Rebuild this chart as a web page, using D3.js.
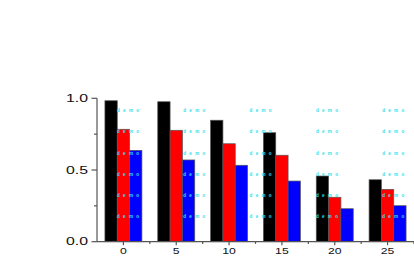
<!DOCTYPE html>
<html>
<head>
<meta charset="utf-8">
<script src="https://cdn.jsdelivr.net/npm/d3@7"></script>
<style>
  html, body { margin: 0; padding: 0; background: #fff; }
  svg { display: block; }
</style>
</head>
<body>
<svg id="chart" width="414" height="276"></svg>
<script>
// data
var categories = [0, 5, 10, 15, 20, 25];
var blackSeries = [0.983, 0.976, 0.847, 0.760, 0.458, 0.432];
var redSeries   = [0.784, 0.777, 0.683, 0.603, 0.310, 0.365];
var blueSeries  = [0.637, 0.570, 0.533, 0.423, 0.230, 0.251];
var yTicks = [0, 0.5, 1.0];
var yMinor = [0.25, 0.75];
var xMinor = [2.5, 7.5, 12.5, 17.5, 22.5, 27.5];

var svg = d3.select("#chart");

var x = d3.scaleLinear().domain([-2.5, 27.5]).range([97, 414]);
var y = d3.scaleLinear().domain([0, 1]).range([241.7, 98.3]);

var series = [
  {values: blackSeries, color: "#000000"},
  {values: redSeries,   color: "#ff0000"},
  {values: blueSeries,  color: "#0000ff"}
];

var barW = (x(5) - x(0)) * 0.7 / 3;

// bars
series.forEach(function(s, si)
{
  svg.append("g")
     .selectAll("rect")
     .data(s.values)
     .enter()
     .append("rect")
     .attr("x", function(d, i) { return x(categories[i]) + (si - 1.5) * barW; })
     .attr("y", function(d) { return y(d); })
     .attr("width", barW)
     .attr("height", function(d) { return y(0) - y(d); })
     .attr("fill", s.color)
     .attr("stroke", "#555")
     .attr("stroke-width", 0.7);
});

// the little "demo" watermark the original program stamps on the plot
var wmCols = d3.range(5), wmRows = d3.range(6);
var wm = svg.append("g").attr("fill", "#2fe0ea")
            .attr("font-family", "Liberation Sans, Arial, sans-serif")
            .attr("font-weight", "bold")
            .attr("font-size", 4.5);
wmRows.forEach(function(r)
{
  wmCols.forEach(function(c)
  {
    wm.append("text")
      .attr("x", 117 + c * 66.3)
      .attr("y", 112.3 + r * 21.1)
      .attr("textLength", 22)
      .attr("lengthAdjust", "spacing")
      .text("demo");
  });
});

var axisColor = "#555";

// y axis
var yAxis = svg.append("g");
yAxis.append("line")
     .attr("x1", x(-2.5)).attr("x2", x(-2.5))
     .attr("y1", y(1)).attr("y2", y(0))
     .attr("stroke", axisColor).attr("stroke-width", 1.2);
yAxis.selectAll(".major").data(yTicks).enter().append("line")
     .attr("x1", x(-2.5) - 5.5).attr("x2", x(-2.5))
     .attr("y1", function(d) { return y(d); }).attr("y2", function(d) { return y(d); })
     .attr("stroke", axisColor).attr("stroke-width", 1.2);
yAxis.selectAll(".minor").data(yMinor).enter().append("line")
     .attr("x1", x(-2.5) - 3).attr("x2", x(-2.5))
     .attr("y1", function(d) { return y(d); }).attr("y2", function(d) { return y(d); })
     .attr("stroke", axisColor).attr("stroke-width", 1.2);
yAxis.selectAll("text").data(yTicks).enter().append("text")
     .attr("x", 88)
     .attr("y", function(d) { return y(d) + 3.5; })
     .attr("text-anchor", "end")
     .attr("font-family", "Liberation Sans, Arial, sans-serif")
     .attr("font-size", 10)
     .attr("fill", "#111")
     .attr("textLength", 22)
     .attr("lengthAdjust", "spacingAndGlyphs")
     .text(function(d) { return d3.format(".1f")(d); });

// x axis
var xAxis = svg.append("g");
xAxis.append("line")
     .attr("x1", x(-2.5)).attr("x2", 414)
     .attr("y1", y(0)).attr("y2", y(0))
     .attr("stroke", axisColor).attr("stroke-width", 1.2);
xAxis.selectAll(".major").data(categories).enter().append("line")
     .attr("x1", function(d) { return x(d); }).attr("x2", function(d) { return x(d); })
     .attr("y1", y(0)).attr("y2", y(0) + 3.5)
     .attr("stroke", axisColor).attr("stroke-width", 1.2);
xAxis.selectAll(".minor").data(xMinor).enter().append("line")
     .attr("x1", function(d) { return x(d); }).attr("x2", function(d) { return x(d); })
     .attr("y1", y(0)).attr("y2", y(0) + 2.2)
     .attr("stroke", axisColor).attr("stroke-width", 1.2);
xAxis.selectAll("text").data(categories).enter().append("text")
     .attr("x", function(d) { return x(d); })
     .attr("y", 254)
     .attr("text-anchor", "middle")
     .attr("font-family", "Liberation Sans, Arial, sans-serif")
     .attr("font-size", 9)
     .attr("fill", "#111")
     .attr("textLength", function(d) { return String(d).length * 6.8; })
     .attr("lengthAdjust", "spacingAndGlyphs")
     .text(function(d) { return d; });
</script>
</body>
</html>
